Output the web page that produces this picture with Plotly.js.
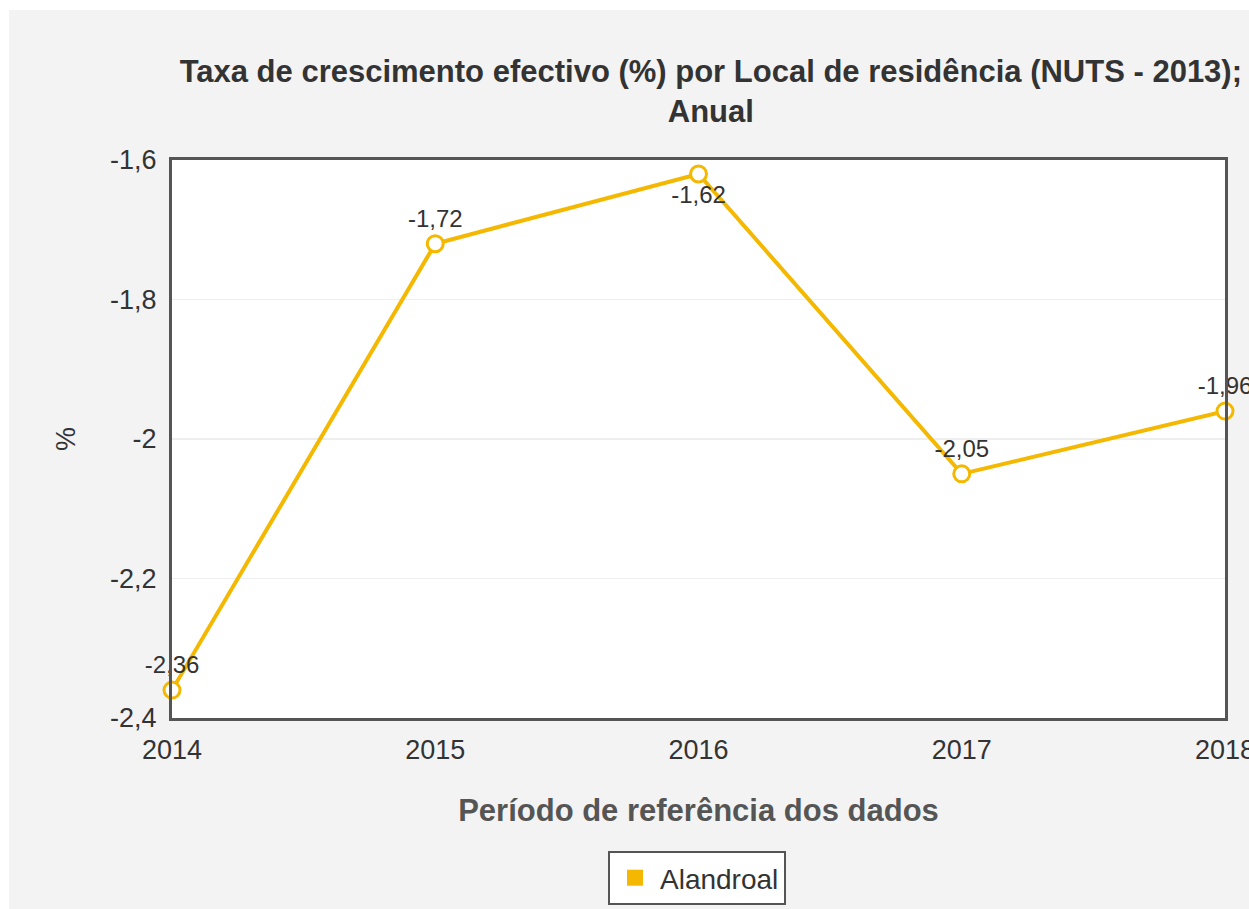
<!DOCTYPE html>
<html>
<head>
<meta charset="utf-8">
<script src="https://cdn.plot.ly/plotly-3.0.1.min.js"></script>
<style>
  html, body { margin: 0; padding: 0; background: #ffffff; overflow: hidden; }
  #chart { position: absolute; left: 9px; top: 10px; width: 1240px; height: 899px; }
</style>
</head>
<body>
<div id="chart"></div>
<script>
// chart data
const years = ['2014', '2015', '2016', '2017', '2018'];
const alandroal = [-2.36, -1.72, -1.62, -2.05, -1.96];
const seriesName = 'Alandroal';
const yTickVals = [-2.4, -2.2, -2, -1.8, -1.6];
const yTickText = ['-2,4', '-2,2', '-2', '-1,8', '-1,6'];

const gold = '#f5b800';
const fontFam = '"Liberation Sans", Arial, sans-serif';

// labels sit above the point, except the top one which drops below
const labelPos = alandroal.map(v => v === Math.max(...alandroal) ? 'bottom center' : 'top center');

const data = [
  {
    x: years,
    y: alandroal,
    type: 'scatter',
    mode: 'lines+markers+text',
    name: seriesName,
    showlegend: false,
    cliponaxis: false,
    line: { color: gold, width: 4 },
    marker: { size: 16, color: '#ffffff', line: { color: gold, width: 3 } },
    text: alandroal.map(v => String(v).replace('.', ',')),
    textposition: labelPos,
    textfont: { family: fontFam, size: 24, color: '#333333' },
    hoverinfo: 'x+y'
  },
  {
    // legend-only entry with a square swatch
    x: [null],
    y: [null],
    type: 'scatter',
    mode: 'markers',
    name: seriesName,
    marker: { symbol: 'square', size: 19, color: gold }
  }
];

const layout = {
  width: 1240,
  height: 899,
  paper_bgcolor: '#f3f3f3',
  plot_bgcolor: '#ffffff',
  font: { family: fontFam, color: '#333333' },
  margin: { l: 163, r: 24, t: 150, b: 191 },
  title: {
    text: '<b>Taxa de crescimento efectivo (%) por Local de residência (NUTS - 2013);<br>Anual</b>',
    font: { family: fontFam, size: 31, color: '#333333' },
    x: 0.566,
    xanchor: 'center',
    xref: 'container',
    y: 1 - 72 / 899,
    yanchor: 'top',
    yref: 'container'
  },
  xaxis: {
    type: 'category',
    range: [0, 4],
    showgrid: false,
    ticks: '',
    showline: true,
    mirror: true,
    linecolor: '#555555',
    linewidth: 3,
    zeroline: false,
    ticklabelstandoff: 6,
    tickfont: { family: fontFam, size: 27, color: '#333333' },
    title: {
      text: '<b>Período de referência dos dados</b>',
      font: { family: fontFam, size: 31, color: '#555555' },
      standoff: 35
    },
    automargin: false,
    fixedrange: true
  },
  yaxis: {
    range: [-2.4, -1.6],
    tickvals: yTickVals,
    ticktext: yTickText,
    showgrid: true,
    gridcolor: '#eeeeee',
    gridwidth: 1.5,
    ticks: '',
    showline: true,
    mirror: true,
    linecolor: '#555555',
    linewidth: 3,
    zeroline: false,
    ticklabelstandoff: 7,
    tickfont: { family: fontFam, size: 27, color: '#333333' },
    title: {
      text: '%',
      font: { family: fontFam, size: 27, color: '#333333' },
      standoff: 27
    },
    automargin: false,
    fixedrange: true
  },
  showlegend: true,
  legend: {
    orientation: 'h',
    xref: 'container',
    yref: 'container',
    x: 688 / 1240,
    xanchor: 'center',
    y: 1 - 841 / 899,
    yanchor: 'top',
    bgcolor: '#ffffff',
    bordercolor: '#555555',
    borderwidth: 2,
    itemwidth: 40,
    font: { family: fontFam, size: 28, color: '#333333' }
  }
};

Plotly.newPlot('chart', data, layout, { displayModeBar: false, staticPlot: true });
</script>
</body>
</html>
